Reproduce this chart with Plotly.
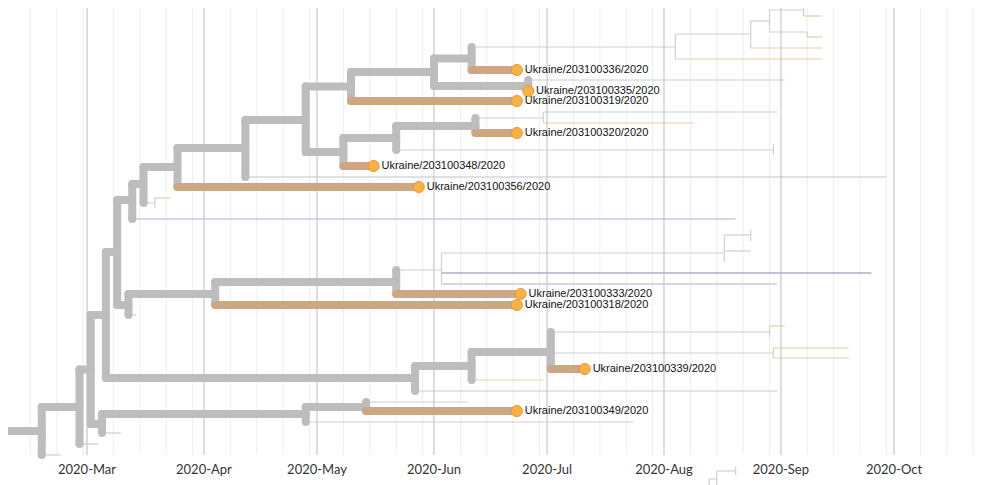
import pandas as pd
import plotly.graph_objects as go

# ---------------- data: tree nodes (parallel lists) ----------------
node_name = [
    "root", "r_t1", "B", "B_t1", "C", "D", "D_t1", "AE", "AE_t1", "AF", "AF_t1", "Ukraine/203100349/2020",
    "E", "F", "Z", "Z_t1", "AA", "AA_t1", "AB", "AC", "AC_t1", "AC_t2", "AD", "AD_t1", "AD_t2", "Ukraine/203100339/2020",
    "G", "G_t1", "AG", "Ukraine/203100318/2020", "AH", "Ukraine/203100333/2020", "AI", "AI_t2", "AI_t3",
    "AJ", "AJ_t1", "AJ_t2", "AK", "AK_t1", "AK_t2",
    "H", "H_t1", "I", "Ia", "Ia_t1", "Ia_t2", "J", "Ukraine/203100356/2020", "K", "K_t1", "L", "V",
    "Ukraine/203100348/2020", "W", "Wb", "Wb_t1", "Wb_t2", "X", "Ukraine/203100320/2020", "Y", "Y_t1", "Y_t2",
    "M", "Ukraine/203100319/2020", "N", "U", "U_t1", "Ukraine/203100335/2020", "O", "Ukraine/203100336/2020",
    "P", "P_t1", "Q", "Q_t1", "R", "S", "S_t1", "S_t2", "T", "T_t1", "T_t2",
    "bb", "bb_t1", "ba", "ba_t1", "bg", "bg_t1", "bg_t2",
]
node_parent = [
    "", "root", "root", "B", "B", "C", "D", "D", "AE", "AE", "AF", "AF",
    "C", "E", "E", "Z", "Z", "AA", "AA", "AB", "AC", "AC", "AB", "AD", "AD", "AB",
    "F", "G", "G", "AG", "AG", "AH", "AH", "AI", "AI",
    "AI", "AJ", "AJ", "AJ", "AK", "AK",
    "F", "H", "H", "I", "Ia", "Ia", "I", "J", "J", "K", "K", "L",
    "V", "V", "W", "Wb", "Wb", "W", "X", "X", "Y", "Y",
    "L", "M", "M", "N", "U", "U", "N", "O",
    "O", "P", "P", "Q", "Q", "R", "S", "S", "R", "T", "T",
    "", "bb", "bb", "ba", "ba", "bg", "bg",
]
node_date = [
    "2020-02-18", "2020-02-23", "2020-02-28", "2020-03-04", "2020-03-02", "2020-03-05", "2020-03-10",
    "2020-04-28", "2020-07-24", "2020-05-14", "2020-06-10", "2020-06-23",
    "2020-03-06", "2020-03-09", "2020-05-27", "2020-08-31", "2020-06-11", "2020-06-30", "2020-07-02",
    "2020-08-29", "2020-09-02", "2020-08-29", "2020-08-30", "2020-09-19", "2020-09-19", "2020-07-11",
    "2020-03-12", "2020-03-14", "2020-04-04", "2020-06-23", "2020-05-22", "2020-06-24", "2020-06-03",
    "2020-09-25", "2020-08-31",
    "2020-08-17", "2020-08-24", "2020-08-17", "2020-08-24", "2020-08-24", "2020-08-24",
    "2020-03-13", "2020-08-20", "2020-03-16", "2020-03-19", "2020-03-23", "2020-03-19", "2020-03-25",
    "2020-05-28", "2020-04-12", "2020-09-29", "2020-04-28", "2020-05-08",
    "2020-05-16", "2020-05-22", "2020-08-30", "2020-08-30", "2020-08-30", "2020-06-12", "2020-06-23",
    "2020-06-30", "2020-08-31", "2020-08-09",
    "2020-05-10", "2020-06-23", "2020-06-01", "2020-06-26", "2020-09-02", "2020-06-26", "2020-06-11",
    "2020-06-23",
    "2020-08-04", "2020-09-12", "2020-08-24", "2020-09-12", "2020-08-29", "2020-09-07", "2020-09-07",
    "2020-09-12", "2020-09-08", "2020-09-08", "2020-09-12",
    "2020-08-13", "2020-08-13", "2020-08-15", "2020-08-15", "2020-08-20", "2020-08-20", "2020-08-20",
]
# vertical tree-layout position of each node (top = 0)
node_y = [
    431, 455, 407, 444, 369.5, 424, 433, 414, 422, 407, 402, 411,
    315, 252, 378, 391, 366, 380, 352, 332, 326, 337, 353, 348, 358, 369,
    305, 315, 294, 305, 282, 294, 270, 273, 284,
    253, 251, 262, 235, 230, 241,
    200, 219, 184, 203, 198, 208, 167, 187, 148, 177, 120, 152,
    166, 138, 150, 144, 155, 126, 133, 118, 112, 123,
    86.5, 101, 72, 86, 80, 91, 58.5, 70,
    47, 59, 34, 48, 21, 10, 4, 16, 32, 32, 37,
    492, 505, 479, 495, 471, 467, 475,
]
node_style = [
    "thick", "green", "thick", "teal", "thick", "thick", "teal", "thick", "grey", "thick", "grey", "tip",
    "thick", "thick", "thick", "teal", "thick", "olive", "thick", "grey", "tan", "grey", "grey", "tan", "tan", "tip",
    "thick", "green", "thick", "tip", "thick", "tip", "grey", "purple", "lilac",
    "grey", "green", "grey", "grey", "grey", "grey",
    "thick", "lilac", "thick", "grey", "tan", "grey", "thick", "tip", "thick", "slate", "thick", "thick",
    "tip", "thick", "grey", "grey", "grey", "thick", "tip", "grey", "teal", "tan",
    "thick", "tip", "thick", "thick", "teal", "tip", "thick", "tip",
    "grey", "tan", "grey", "tan", "grey", "grey", "grey", "tan", "grey", "grey", "tan",
    "grey", "grey", "grey", "grey", "grey", "grey", "grey",
]
root_branch_start = "2020-02-09"

month_ticks = ["2020-03-01", "2020-04-01", "2020-05-01", "2020-06-01",
               "2020-07-01", "2020-08-01", "2020-09-01", "2020-10-01"]
month_labels = ["2020-Mar", "2020-Apr", "2020-May", "2020-Jun",
                "2020-Jul", "2020-Aug", "2020-Sep", "2020-Oct"]

# ---------------- styles ----------------
STYLES = {
    "grey":   dict(color="#D0D0D0", width=1.2),
    "tan":    dict(color="#E2CDAB", width=1.2),
    "teal":   dict(color="#BDD3D0", width=1.2),
    "green":  dict(color="#BCD8CA", width=1.2),
    "olive":  dict(color="#DCD9AA", width=1.2),
    "slate":  dict(color="#C4C2D4", width=1.2),
    "lilac":  dict(color="#C6CAE6", width=1.4),
    "purple": dict(color="#AFABCD", width=1.4),
    "thick":  dict(color="#BDBDBD", width=8),
    "tip":    dict(color="#CDA781", width=8),
}
thin_order = ["grey", "tan", "teal", "green", "olive", "slate", "lilac", "purple"]

pos = {n: i for i, n in enumerate(node_name)}
children = {n: [] for n in node_name}
for n, p in zip(node_name, node_parent):
    if p:
        children[p].append(n)

segs = {k: ([], []) for k in STYLES}


def add(style, x0, y0, x1, y1):
    xs, ys = segs[style]
    xs += [x0, x1, None]
    ys += [y0, y1, None]


for i, n in enumerate(node_name):
    st = node_style[i]
    p = node_parent[i]
    if p:
        add(st, node_date[pos[p]], node_y[i], node_date[i], node_y[i])
    elif n == "root":
        add(st, root_branch_start, node_y[i], node_date[i], node_y[i])
    kids = children[n]
    if kids:
        ky = [node_y[pos[k]] for k in kids]
        add(st, node_date[i], min(ky), node_date[i], max(ky))

fig = go.Figure()
for st in thin_order + ["thick", "tip"]:
    xs, ys = segs[st]
    if not xs:
        continue
    s = STYLES[st]
    thick = s["width"] > 2
    fig.add_trace(go.Scatter(
        x=xs, y=ys, mode="lines+markers" if thick else "lines",
        line=dict(color=s["color"], width=s["width"]),
        marker=dict(size=s["width"], color=s["color"], line=dict(width=0)),
        hoverinfo="skip", showlegend=False,
    ))

tips = [i for i, s in enumerate(node_style) if s == "tip"]
fig.add_trace(go.Scatter(
    x=[node_date[i] for i in tips], y=[node_y[i] for i in tips],
    mode="markers+text", text=[node_name[i] for i in tips],
    textposition="middle right",
    textfont=dict(family="Liberation Sans, Arial, sans-serif", size=11, color="#111111"),
    marker=dict(size=11, color="#FDB044", line=dict(color="#E8962C", width=1)),
    hoverinfo="text", showlegend=False,
))

# ---------------- grid ----------------
minor_days = [f"2020-{m:02d}-{d:02d}" for m in range(2, 11) for d in (8, 15, 22, 29)]
minor_days = [d for d in minor_days if d > "2020-02-10"]
shapes = []
for d in minor_days:
    shapes.append(dict(type="line", xref="x", yref="y", x0=d, x1=d, y0=6, y1=455,
                       line=dict(color="#EEEEEE", width=1), layer="below"))
for d in month_ticks:
    shapes.append(dict(type="line", xref="x", yref="y", x0=d, x1=d, y0=6, y1=455,
                       line=dict(color="#DDDDDD", width=2), layer="below"))

# page body has an 8px margin: figure pixel 0 sits at window pixel 8
OFF = 8
W, H = 994 - OFF, 485 - OFF
ppd = (894 - 87) / 214.0
anchor = pd.Timestamp("2020-03-01")
x_start = anchor + pd.Timedelta(days=(OFF - 87) / ppd)
x_end = anchor + pd.Timedelta(days=(994 - 87) / ppd)

fig.update_layout(
    width=W, height=H,
    margin=dict(l=0, r=0, t=0, b=0, pad=0),
    paper_bgcolor="white", plot_bgcolor="white",
    shapes=shapes, showlegend=False,
    xaxis=dict(type="date", range=[str(x_start), str(x_end)],
               tickvals=month_ticks, ticktext=month_labels,
               ticklabelposition="inside", ticks="", showgrid=False, zeroline=False,
               showline=False, automargin=False, ticklabelstandoff=5,
               tickfont=dict(family="Lato, sans-serif", size=13, color="#333333"),
               fixedrange=True),
    yaxis=dict(range=[485, OFF], visible=False, fixedrange=True),
)

fig.write_html("out.html")
